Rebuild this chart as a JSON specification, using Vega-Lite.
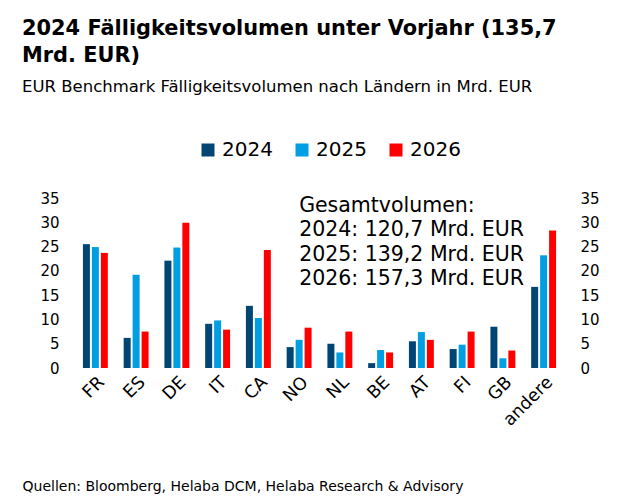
{
  "$schema": "https://vega.github.io/schema/vega-lite/v6.json",
  "width": 489,
  "height": 170,
  "autosize": {"type": "none"},
  "padding": {"left": 75, "top": 198, "right": 63, "bottom": 136},
  "background": "white",
  "title": {
    "text": ["2024 Fälligkeitsvolumen unter Vorjahr (135,7", "Mrd. EUR)"],
    "subtitle": "EUR Benchmark Fälligkeitsvolumen nach Ländern in Mrd. EUR",
    "anchor": "start",
    "frame": "group",
    "dx": -53,
    "offset": 45,
    "font": "DejaVu Sans",
    "fontSize": 20.9,
    "fontWeight": "bold",
    "lineHeight": 27,
    "color": "#000000",
    "subtitleFont": "DejaVu Sans",
    "subtitleFontSize": 16.5,
    "subtitleColor": "#000000",
    "subtitlePadding": 13
  },
  "datasets": {
    "volumes": [
      {"country": "FR", "year": "2024", "value": 25.5},
      {"country": "FR", "year": "2025", "value": 24.9},
      {"country": "FR", "year": "2026", "value": 23.7},
      {"country": "ES", "year": "2024", "value": 6.2},
      {"country": "ES", "year": "2025", "value": 19.2},
      {"country": "ES", "year": "2026", "value": 7.5},
      {"country": "DE", "year": "2024", "value": 22.1},
      {"country": "DE", "year": "2025", "value": 24.8},
      {"country": "DE", "year": "2026", "value": 29.9},
      {"country": "IT", "year": "2024", "value": 9.1},
      {"country": "IT", "year": "2025", "value": 9.8},
      {"country": "IT", "year": "2026", "value": 7.9},
      {"country": "CA", "year": "2024", "value": 12.8},
      {"country": "CA", "year": "2025", "value": 10.3},
      {"country": "CA", "year": "2026", "value": 24.3},
      {"country": "NO", "year": "2024", "value": 4.3},
      {"country": "NO", "year": "2025", "value": 5.8},
      {"country": "NO", "year": "2026", "value": 8.3},
      {"country": "NL", "year": "2024", "value": 5.0},
      {"country": "NL", "year": "2025", "value": 3.2},
      {"country": "NL", "year": "2026", "value": 7.5},
      {"country": "BE", "year": "2024", "value": 1.0},
      {"country": "BE", "year": "2025", "value": 3.7},
      {"country": "BE", "year": "2026", "value": 3.2},
      {"country": "AT", "year": "2024", "value": 5.5},
      {"country": "AT", "year": "2025", "value": 7.4},
      {"country": "AT", "year": "2026", "value": 5.8},
      {"country": "FI", "year": "2024", "value": 3.9},
      {"country": "FI", "year": "2025", "value": 4.8},
      {"country": "FI", "year": "2026", "value": 7.5},
      {"country": "GB", "year": "2024", "value": 8.5},
      {"country": "GB", "year": "2025", "value": 2.0},
      {"country": "GB", "year": "2026", "value": 3.6},
      {"country": "andere", "year": "2024", "value": 16.7},
      {"country": "andere", "year": "2025", "value": 23.2},
      {"country": "andere", "year": "2026", "value": 28.3}
    ],
    "note": [
      {"label": "Gesamtvolumen:\n2024: 120,7 Mrd. EUR\n2025: 139,2 Mrd. EUR\n2026: 157,3 Mrd. EUR"}
    ]
  },
  "layer": [
    {
      "data": {"name": "volumes"},
      "mark": {"type": "bar"},
      "encoding": {
        "x": {
          "field": "country",
          "type": "nominal",
          "sort": null,
          "scale": {"paddingInner": 0.34, "paddingOuter": 0.17},
          "axis": {
            "labelAngle": -45,
            "labelFontSize": 17.5,
            "labelPadding": 5,
            "title": "Quellen: Bloomberg, Helaba DCM, Helaba Research & Advisory",
            "titleFont": "DejaVu Sans",
            "titleFontSize": 14,
            "titleFontWeight": "normal",
            "titleColor": "#000000",
            "titleAlign": "left",
            "titleAnchor": "start",
            "titleBaseline": "alphabetic",
            "titleX": -53,
            "titleY": 122
          }
        },
        "xOffset": {
          "field": "year",
          "type": "nominal",
          "scale": {"paddingInner": 0.22, "paddingOuter": 0.11}
        },
        "y": {
          "field": "value",
          "type": "quantitative",
          "scale": {"domain": [0, 35]},
          "axis": {"orient": "left", "title": null}
        },
        "color": {
          "field": "year",
          "type": "nominal",
          "scale": {"domain": ["2024", "2025", "2026"], "range": ["#004574", "#009FE3", "#FF0000"]},
          "legend": {
            "title": null,
            "orient": "none",
            "direction": "horizontal",
            "legendX": 123,
            "legendY": -58,
            "symbolType": "square",
            "symbolSize": 169,
            "symbolStrokeWidth": 0,
            "labelFontSize": 20,
            "labelOffset": 4,
            "columnPadding": 19
          }
        }
      }
    },
    {
      "data": {"name": "note"},
      "mark": {"type": "text", "align": "left", "baseline": "alphabetic", "lineBreak": "\n", "fontSize": 20.5, "lineHeight": 24.5, "color": "#000000"},
      "encoding": {
        "x": {"datum": "NO", "type": "nominal"},
        "y": {
          "datum": 32.2,
          "type": "quantitative",
          "scale": {"domain": [0, 35]},
          "axis": {"orient": "right", "title": null}
        },
        "text": {"field": "label"}
      }
    }
  ],
  "resolve": {"scale": {"y": "independent"}},
  "config": {
    "font": "DejaVu Sans",
    "view": {"stroke": null},
    "axis": {
      "labelFont": "DejaVu Sans",
      "labelColor": "#000000",
      "domain": false,
      "ticks": false,
      "grid": false
    },
    "axisY": {
      "values": [0, 5, 10, 15, 20, 25, 30, 35],
      "labelFontSize": 15,
      "labelPadding": 16
    },
    "legend": {"labelFont": "DejaVu Sans", "labelColor": "#000000"},
    "text": {"font": "DejaVu Sans"}
  }
}
